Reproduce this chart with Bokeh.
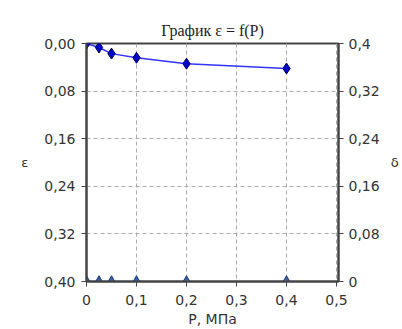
from bokeh.plotting import figure
from bokeh.models import Range1d, LinearAxis, FixedTicker, CustomJSTickFormatter
from bokeh.embed import file_html
from bokeh.resources import INLINE

# data
P = [0, 0.025, 0.05, 0.1, 0.2, 0.4]
eps = [0.0, 0.0067, 0.017, 0.024, 0.034, 0.042]
P_d = [0, 0.025, 0.05, 0.1, 0.2, 0.4]
delta = [0, 0, 0, 0, 0, 0]
y_ticks = [0, 0.08, 0.16, 0.24, 0.32, 0.40]
x_ticks = [0, 0.1, 0.2, 0.3, 0.4, 0.5]

fmt2 = CustomJSTickFormatter(code="return tick.toFixed(2).replace('.', ',');")
fmtg = CustomJSTickFormatter(code="var s = tick.toFixed(2); if (s.indexOf('.')>=0){s=s.replace(/0+$/,'').replace(/\\.$/,'');} return s.replace('.', ',');")

p = figure(width=402, height=329, output_backend="svg", toolbar_location=None,
           x_range=Range1d(0, 0.504), y_range=Range1d(0.4, 0),
           min_border_left=86, min_border_right=64, min_border_top=43, min_border_bottom=47,
           title="График ε = f(P)")
p.extra_y_ranges = {"d": Range1d(0, 0.4)}

p.title.align = "center"
p.title.text_font = "Liberation Serif"
p.title.text_font_size = "16px"
p.title.text_font_style = "normal"
p.title.text_color = "#222222"
p.title.offset = 20

p.outline_line_color = "#444444"
p.outline_line_width = 2


def style(ax):
    ax.axis_label_text_font = "DejaVu Sans"
    ax.axis_label_text_font_size = "13px"
    ax.axis_label_text_font_style = "normal"
    ax.axis_label_text_color = "#333333"
    ax.major_label_text_font = "DejaVu Sans"
    ax.major_label_text_font_size = "14px"
    ax.major_label_text_color = "#333333"
    ax.axis_line_color = "#444444"
    ax.axis_line_width = 2
    ax.major_tick_line_color = "#444444"
    ax.major_tick_line_width = 1
    ax.major_tick_in = 0
    ax.major_tick_out = 5
    ax.minor_tick_line_color = None


style(p.xaxis[0])
style(p.yaxis[0])

p.xaxis[0].ticker = FixedTicker(ticks=x_ticks)
p.xaxis[0].formatter = fmtg
p.xaxis[0].axis_label = "P, МПа"
p.xaxis[0].axis_label_standoff = 3
p.xaxis[0].major_label_standoff = 8
p.xaxis[0].axis_label_text_font_size = "14px"
p.yaxis[0].ticker = FixedTicker(ticks=y_ticks)
p.yaxis[0].formatter = fmt2
p.yaxis[0].axis_label = "ε"
p.yaxis[0].axis_label_orientation = "horizontal"
p.yaxis[0].axis_label_standoff = 13
p.yaxis[0].major_label_standoff = 6

rax = LinearAxis(y_range_name="d", ticker=FixedTicker(ticks=y_ticks), formatter=fmtg,
                 axis_label="δ")
style(rax)
rax.axis_label_orientation = "horizontal"
rax.axis_label_standoff = 8
rax.major_label_standoff = 5
p.add_layout(rax, "right")

for g in (p.xgrid[0], p.ygrid[0]):
    g.grid_line_color = "#aaaaaa"
    g.grid_line_dash = "4 3"
    g.grid_line_width = 1
p.xgrid[0].ticker = FixedTicker(ticks=x_ticks)
p.ygrid[0].ticker = FixedTicker(ticks=y_ticks)

# delta series
p.line(P_d[:4], delta[:4], y_range_name="d", line_color="#6f8fd0", line_width=1.5)
p.scatter(P_d, delta, y_range_name="d", marker="triangle", size=10,
          fill_color="#3a5fb0", line_color="#22386a", line_width=1)

# epsilon series
p.line(P, eps, line_color="#3333ff", line_width=1.5)
p.scatter(P, eps, marker="diamond", size=11, fill_color="#0000cc", line_color="#000055", line_width=1)

open("out.html", "w").write(file_html(p, INLINE))
